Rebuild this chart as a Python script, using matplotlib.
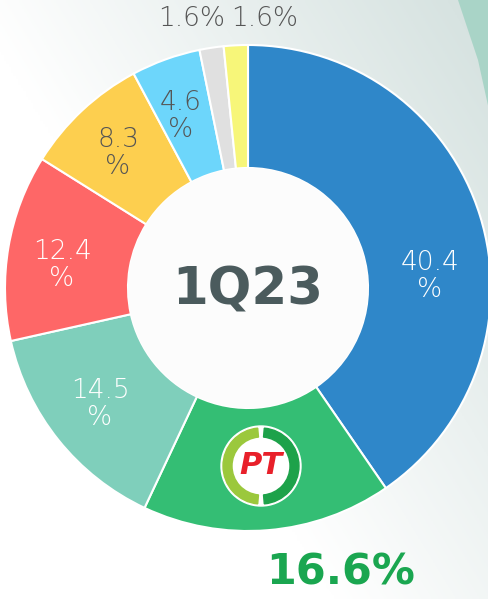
import numpy as np
import matplotlib.pyplot as plt
from matplotlib.patches import Circle, Wedge, Polygon

# data
shares = [40.4, 16.6, 14.5, 12.4, 8.3, 4.6, 1.6, 1.6]
labels = ["40.4\n%", "", "14.5\n%", "12.4\n%", "8.3\n%", "4.6\n%", "1.6%", "1.6%"]
colors = ["#2F87C9", "#34BE74", "#7FCFBB", "#FE6767", "#FDCF4F",
          "#6DD6FB", "#E0E0E0", "#F7F679"]
label_colors = ["white", "white", "white", "white", "#555555", "#555555",
                "#555555", "#555555"]
period = "1Q23"
highlight = "16.6%"

W, H = 489, 599
fig = plt.figure(figsize=(W / 100, H / 100), dpi=100)
ax = fig.add_axes([0, 0, 1, 1])
ax.set_xlim(0, W)
ax.set_ylim(0, H)
ax.set_aspect("equal")
ax.axis("off")

# background gradient
gx, gy = np.meshgrid(np.linspace(0, 1, 200), np.linspace(0, 1, 200))
g = np.clip((gx * 0.8 + gy * 0.6) - 0.55, 0, 1)
c0 = np.array([1.0, 1.0, 1.0])
c1 = np.array([0.80, 0.86, 0.85])
img = c0[None, None, :] * (1 - g[..., None]) + c1[None, None, :] * g[..., None]
ax.imshow(img, extent=[0, W, 0, H], origin="lower", zorder=0, aspect="auto")
ax.add_patch(Polygon([(458, H), (W, H), (W, H - 110), (478, H - 60)],
                     closed=True, color="#A9D4C7", lw=0, zorder=0.5))

cx, cy = 248, H - 288
R = 243
wedges, _ = ax.pie(shares, colors=colors, startangle=90, counterclock=False,
                   center=(cx, cy), radius=R, frame=True,
                   wedgeprops=dict(width=R - 120, edgecolor="white", linewidth=1.5))
ax.set_xlim(0, W)
ax.set_ylim(0, H)
ax.axis("off")

# white centre
ax.add_patch(Circle((cx, cy), 120, color="#FCFCFC", lw=0, zorder=4))

# slice labels
pos = [(430, 276), None, (100, 404), (62, 265), (118, 153), (181, 116),
       (192, 18), (265, 18)]
for lab, p, col in zip(labels, pos, label_colors):
    if p is None:
        continue
    ax.text(p[0], H - p[1], lab, ha="center", va="center", color=col,
            fontsize=19, family="DejaVu Sans", fontweight="light",
            linespacing=1.1, zorder=5)

ax.text(cx, H - 290, period, ha="center", va="center", color="#4B5B5D",
        fontsize=37, fontweight="bold", family="DejaVu Sans", zorder=5)

ax.text(341, H - 573, highlight, ha="center", va="center", color="#1AA650",
        fontsize=31, fontweight="bold", family="DejaVu Sans", zorder=5)

# PT logo
lx, ly = 261, H - 466
ax.add_patch(Circle((lx, ly), 40, color="white", zorder=6))
ax.add_patch(Wedge((lx, ly), 38, 95, 265, width=9, color="#9BC83C", zorder=7))
ax.add_patch(Wedge((lx, ly), 38, -85, 85, width=9, color="#1DA24A", zorder=7))
ax.text(lx, ly, "PT", ha="center", va="center", color="#E8202A",
        fontsize=22, fontweight="bold", style="italic", zorder=8)

fig.savefig("out.png", dpi=100)
